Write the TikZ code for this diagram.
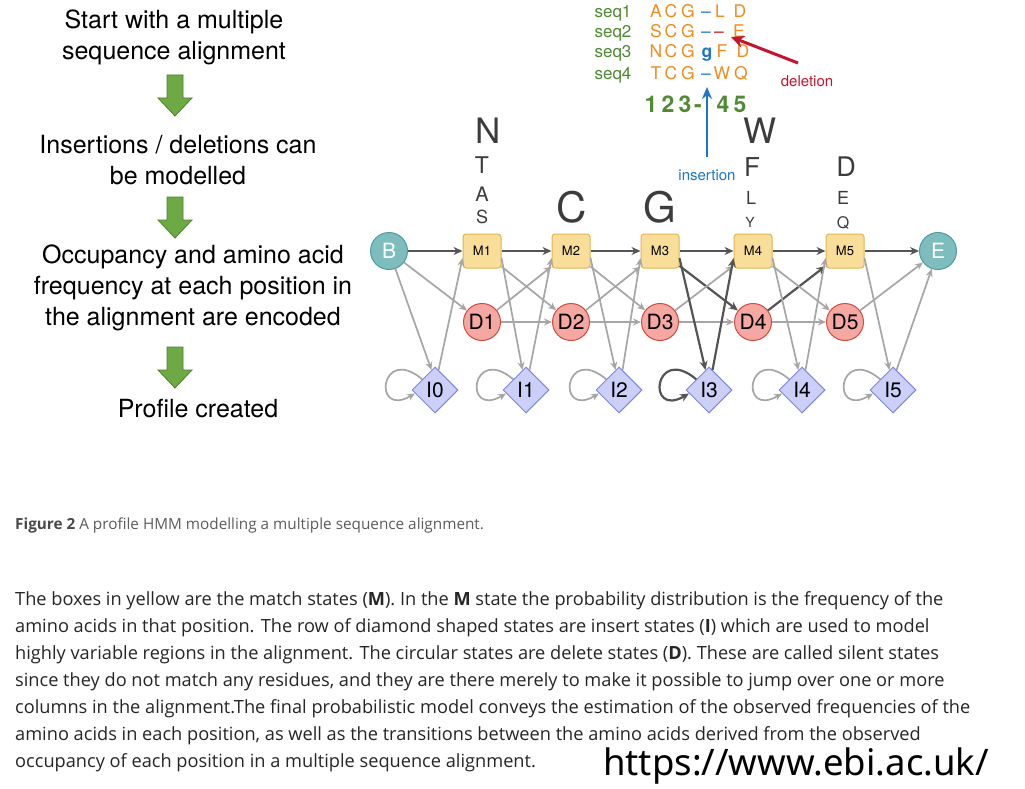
\documentclass[tikz,border=0pt]{standalone}
\usepackage{fontspec}
\setmainfont{TeX Gyre Heros}
\newfontfamily\bodyfont{Open Sans}
\newfontfamily\urlfont{Noto Sans}
\usetikzlibrary{arrows.meta,positioning,shapes.geometric}
\definecolor{endfill}{HTML}{7DBDBE}
\definecolor{endline}{HTML}{4E9C9D}
\definecolor{matchfill}{HTML}{F9DE9A}
\definecolor{matchline}{HTML}{E2B451}
\definecolor{delfill}{HTML}{F5A8A2}
\definecolor{delline}{HTML}{D04A40}
\definecolor{insfill}{HTML}{CCD0F8}
\definecolor{insline}{HTML}{7E87DA}
\definecolor{darkedge}{HTML}{555555}
\definecolor{liteedge}{HTML}{A6A6A6}
\definecolor{logogray}{HTML}{3C3C3C}
\definecolor{seqgreen}{HTML}{4E8B33}
\definecolor{resorange}{HTML}{EF8D1F}
\definecolor{seqblue}{HTML}{1E77C6}
\definecolor{delred}{HTML}{C5142F}
\definecolor{bodytext}{HTML}{262626}
\definecolor{captext}{HTML}{5C5C5C}
\definecolor{capbold}{HTML}{4A4A4A}
\definecolor{arrowgreen}{HTML}{6DAA45}
\definecolor{arrowline}{HTML}{4E7F2E}
\newcommand\fsz[2]{\fontsize{#1}{#2}\selectfont}

\begin{document}
\begin{tikzpicture}[x=1pt,y=1pt,>=Stealth,
  state/.style={draw,line width=1pt,inner sep=0pt,font=\fsz{21}{21}},
  endpt/.style={state,circle,minimum size=37pt,fill=endfill,draw=endline,text=white},
  match/.style={state,rounded corners=3pt,minimum width=38pt,minimum height=34pt,fill=matchfill,draw=matchline,font=\fsz{13}{13}},
  del/.style={state,circle,minimum size=37pt,fill=delfill,draw=delline},
  ins/.style={state,diamond,minimum width=46pt,minimum height=46pt,fill=insfill,draw=insline},
  dark/.style={line width=2.2pt,draw=darkedge,-{Stealth[length=9pt,width=8pt]}},
  lite/.style={line width=1.7pt,draw=liteedge,-{Stealth[length=8pt,width=7pt]}},
  logo/.style={inner sep=0pt,text=logogray},
  res/.style={inner sep=0pt,anchor=base,font=\fsz{17.5}{17.5}},
  flow/.style={inner sep=0pt,anchor=north,align=center,font=\fsz{25}{31}},
  bodyline/.style={inner sep=0pt,anchor=base west,font=\bodyfont\fsz{18.2}{27},text=bodytext}]
  \fill[white] (0,0) rectangle (1025,-789);
  \useasboundingbox (0,0) rectangle (1025,-789);

  % steps on the left
  \node[flow] (start) at (174,-9.5) {Start with a multiple\\sequence alignment};
  \node[flow] (indel) at (178,-135) {Insertions / deletions can\\be modelled};
  \node[flow] (occup) at (193,-244.5) {Occupancy and amino acid\\frequency at each position in\\the alignment are encoded};
  \node[flow] (prof) at (198,-399) {Profile created};
  \foreach \top in {75,197,347}
    \filldraw[fill=arrowgreen,draw=arrowline,line width=0.8pt] (167,-\top) -- (183,-\top) -- (183,-\top-23)
      -- (192,-\top-23) -- (175,-\top-41) -- (158,-\top-23) -- (167,-\top-23) -- cycle;

  % alignment
  \foreach \r/\yy in {1/18,2/38,3/58,4/80}
    \node[res,text=seqgreen,font=\fsz{17}{17}] (seq\r) at (613,-\yy) {seq\r};
  \foreach \x/\yy/\ch/\cl [count=\k] in {656/18/A/resorange,671/18/C/resorange,688/18/G/resorange,706/18/--/seqblue,720/18/L/resorange,740/18/D/resorange,
    656/38/S/resorange,671/38/C/resorange,688/38/G/resorange,706/38/--/seqblue,719/38/--/delred,739/38/E/resorange,
    656/58/N/resorange,671/58/C/resorange,688/58/G/resorange,707/58/{\textbf{g}}/seqblue,722/58/F/resorange,743/58/D/resorange,
    656/80/T/resorange,671/80/C/resorange,688/80/G/resorange,706/80/--/seqblue,722/80/W/resorange,741/80/Q/resorange}
    \node[res,text=\cl] (res\k) at (\x,-\yy) {\ch};
  \foreach \x/\ch [count=\k] in {651/1,668/2,685/3,698/-,723/4,740/5}
    \node[res,text=seqgreen,font=\bfseries\fsz{23}{23}] (col\k) at (\x,-113) {\ch};
  \node[inner sep=0pt,text=seqblue,font=\fsz{15}{15}] (inslab) at (707,-175) {insertion};
  \node[inner sep=0pt,text=delred,font=\fsz{15}{15}] (dellab) at (807,-81) {deletion};
  \coordinate (instail) at (707,-157);
  \coordinate (instip) at (707,-87);
  \coordinate (deltail) at (798,-63);
  \coordinate (deltip) at (731,-37);
  \draw[seqblue,line width=2.5pt,-{Stealth[length=12pt,width=10pt]}] (instail) -- (instip);
  \draw[delred,line width=3pt,-{Stealth[length=13pt,width=12pt]}] (deltail) -- (deltip);

  % residue logos
  \node[logo,font=\fsz{35}{35}] (lN) at (488,-131) {N};
  \node[logo,font=\fsz{23}{23}] (lT) at (482,-165) {T};
  \node[logo,font=\fsz{20}{20}] (lA) at (482,-194) {A};
  \node[logo,font=\fsz{18}{18}] (lS) at (482,-217) {S};
  \node[logo,font=\fsz{42}{42}] (lC) at (572,-207) {C};
  \node[logo,font=\fsz{42}{42}] (lG) at (660,-207) {G};
  \node[logo,font=\fsz{35}{35}] (lW) at (760,-131) {W};
  \node[logo,font=\fsz{26}{26}] (lF) at (752,-167) {F};
  \node[logo,font=\fsz{18}{18}] (lL) at (751,-198) {L};
  \node[logo,font=\fsz{14}{14}] (lY) at (750,-222) {Y};
  \node[logo,font=\fsz{27}{27}] (lD) at (846,-167) {D};
  \node[logo,font=\fsz{18}{18}] (lE) at (843,-198) {E};
  \node[logo,font=\fsz{16}{16}] (lQ) at (843,-223) {Q};

  % profile HMM states
  \node[endpt] (B) at (389,-251) {B};
  \node[endpt] (E) at (938,-251) {E};
  \foreach \k/\x in {1/482,2/571,3/660,4/753,5/845} {
    \node[match] (M\k) at (\x,-251) {M\k};
    \node[del] (D\k) at (\x,-322) {D\k};
  }
  \foreach \k/\x in {0/435,1/526,2/619,3/709,4/802,5/893}
    \node[ins] (I\k) at (\x,-390) {I\k};

  % transitions
  \draw[dark] (B) -- (M1);
  \foreach \a/\b in {M1/M2,M2/M3,M3/M4,M4/M5,M5/E,M3/D4,D4/M5}
    \draw[dark] (\a) -- (\b);
  \foreach \a/\b in {B/D1,M1/D2,M2/D3,M4/D5,D1/D2,D2/D3,D3/D4,D4/D5,D1/M2,D2/M3,D3/M4,D5/E}
    \draw[lite] (\a) -- (\b);
  \draw[lite] (B) -- (I0.100);
  \foreach \a/\b in {M1/I1,M2/I2,M4/I4,M5/I5}
    \draw[lite] (\a.-20) -- (\b.100);
  \foreach \a/\b in {I0/M1,I1/M2,I2/M3,I4/M5}
    \draw[lite] (\a.80) -- (\b.200);
  \draw[lite] (I5.80) -- (E);
  \draw[dark] (M3.-20) -- (I3.100);
  \draw[dark] (I3.80) -- (M4.200);
  \foreach \k in {0,1,2,4,5}
    \draw[lite] (I\k.140) .. controls +(140:55) and +(210:50) .. (I\k.190);
  \draw[dark] (I3.140) .. controls +(140:55) and +(210:50) .. (I3.190);

  % caption and text
  \node[anchor=base west,inner sep=0pt,font=\bodyfont\fsz{15.3}{15.3},text=captext] (caption) at (15,-529)
    {\textcolor{capbold}{\textbf{Figure 2}} A profile HMM modelling a multiple sequence alignment.};
  \foreach \txt [count=\k] in {
    {The boxes in yellow are the match states (\textbf{M}). In the \textbf{M} state the probability distribution is the frequency of the},
    {amino acids in that position. The row of diamond shaped states are insert states (\textbf{I}) which are used to model},
    {highly variable regions in the alignment. The circular states are delete states (\textbf{D}). These are called silent states},
    {since they do not match any residues, and they are there merely to make it possible to jump over one or more},
    {columns in the alignment.The final probabilistic model conveys the estimation of the observed frequencies of the},
    {amino acids in each position, as well as the transitions between the amino acids derived from the observed},
    {occupancy of each position in a multiple sequence alignment.}}
    \node[bodyline] (body\k) at (15,-605-27*\k+27) {\txt};
  \node[anchor=base west,inner sep=0pt,font=\urlfont\fsz{36.5}{36.5}] (url) at (603,-775) {https://www.ebi.ac.uk/};
\end{tikzpicture}
\end{document}
